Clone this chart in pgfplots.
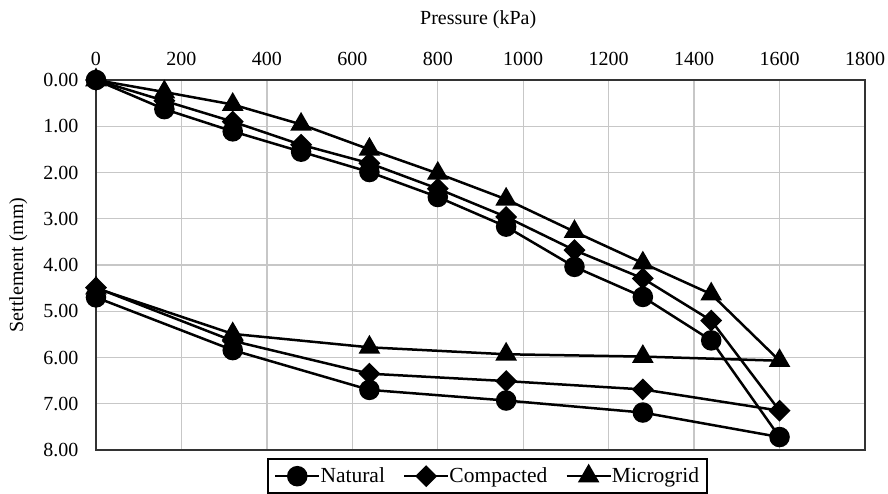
\documentclass[border=0pt]{standalone}
\usepackage{fontspec}
\setmainfont{Liberation Serif}
\usepackage{pgfplots}
\pgfplotsset{compat=1.18}
\begin{document}
\begin{tikzpicture}
\useasboundingbox (-96pt,-44pt) rectangle (792pt,450pt);
\begin{axis}[
  scale only axis, width=769pt, height=370pt,
  xmin=0, xmax=1800, ymin=0, ymax=8, y dir=reverse,
  xtick={0,200,...,1800}, ytick={0,1,...,8},
  xticklabel pos=top,
  xlabel={Pressure (kPa)}, ylabel={Settlement (mm)},
  every axis x label/.style={at={(axis description cs:0.497,1.162)}, anchor=center,
    font=\fontsize{20}{22}\selectfont},
  every axis y label/.style={at={(axis description cs:-0.101,0.5)}, anchor=center, rotate=90,
    font=\fontsize{20}{22}\selectfont},
  grid=major, major grid style={color=black!22, line width=1.3pt},
  axis line style={black!80, line width=1.3pt},
  major tick length=0pt,
  tick label style={font=\fontsize{20}{22}\selectfont},
  x tick label style={yshift=11pt, /pgf/number format/1000 sep={}},
  y tick label style={xshift=-14pt, /pgf/number format/.cd, fixed, fixed zerofill, precision=2},
  /pgf/number format/assume math mode=true,
  every axis plot/.append style={black, line width=2.5pt},
  legend style={at={(0.2224,-0.0216)}, anchor=north west, legend columns=3,
    draw=black, line width=2pt, font=\fontsize{21.5}{24}\selectfont,
    inner xsep=6pt, inner ysep=7pt,
    /tikz/every even column/.append style={column sep=16pt},
    /tikz/every odd column/.append style={column sep=-2pt}},
  legend image code/.code={%
    \draw[mark repeat=2, mark phase=2, line width=2.5pt]
      plot coordinates {(0pt,0pt) (22pt,0pt) (44pt,0pt)};},
]
\addplot[mark=*, mark size=9pt] coordinates {
 (0,0) (160,0.63) (320,1.11) (480,1.55) (640,1.99) (800,2.53) (960,3.17) (1120,4.04) (1280,4.69) (1440,5.63) (1600,7.72)
 (1280,7.19) (960,6.93) (640,6.70) (320,5.84) (0,4.70)};
\addlegendentry{Natural}
\addplot[mark=square*, mark size=6.5pt, mark options={rotate=45}] coordinates {
 (0,0) (160,0.45) (320,0.90) (480,1.40) (640,1.80) (800,2.35) (960,2.96) (1120,3.68) (1280,4.29) (1440,5.20) (1600,7.15)
 (1280,6.69) (960,6.51) (640,6.35) (320,5.64) (0,4.49)};
\addlegendentry{Compacted}
\addplot[mark=triangle*, mark size=10pt] coordinates {
 (0,0) (160,0.26) (320,0.53) (480,0.96) (640,1.50) (800,2.02) (960,2.58) (1120,3.28) (1280,3.96) (1440,4.63) (1600,6.07)
 (1280,5.98) (960,5.93) (640,5.78) (320,5.49) (0,4.50)};
\addlegendentry{Microgrid}
\end{axis}
\end{tikzpicture}
\end{document}
